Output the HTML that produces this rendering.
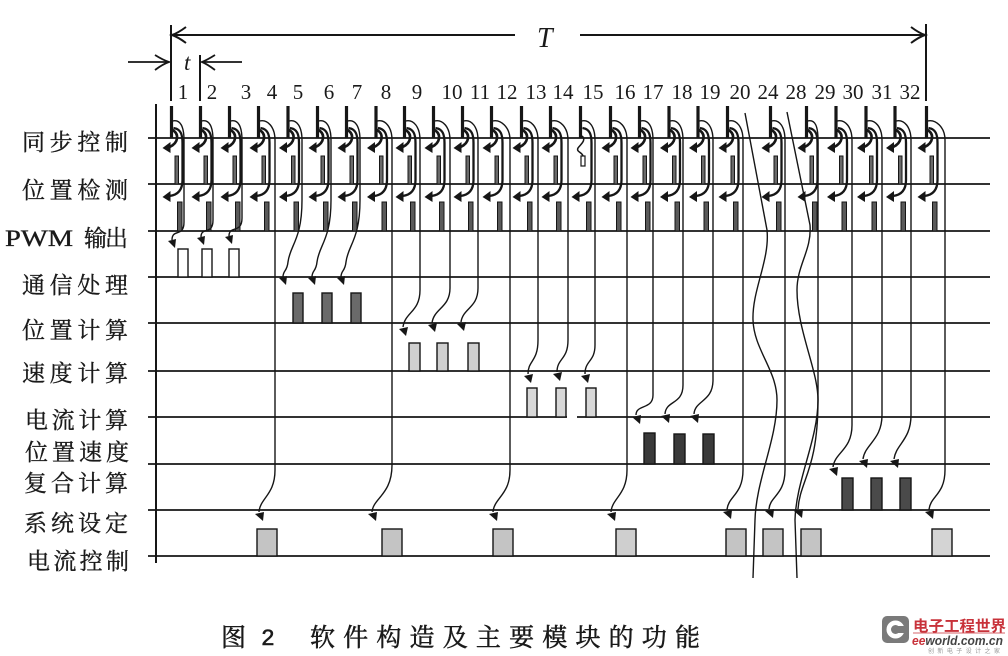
<!DOCTYPE html>
<html>
<head>
<meta charset="utf-8">
<style>
html,body{margin:0;padding:0;background:#fff;}
svg{display:block;}
.lb{font-family:"Liberation Serif","Noto Serif CJK SC",serif;font-size:23px;fill:#1a1a1a;stroke:#1a1a1a;stroke-width:0.35;}
.num{font-family:"Liberation Serif",serif;font-size:21px;fill:#1a1a1a;text-anchor:middle;}
</style>
</head>
<body>
<svg width="1008" height="656" viewBox="0 0 1008 656" xmlns="http://www.w3.org/2000/svg">
<defs>
  <g id="tk">
    <line x1="0" y1="106" x2="0" y2="138" stroke-width="3.2"/>
    <path d="M2,128 C9,129 11,134 11,143 L11,180 C11,190 6,195 -2,196" stroke-width="2.3" fill="none"/>
    <polygon points="-9,197 -1,191 -1,202" fill="#161616" stroke="none"/>
    <rect x="6" y="202" width="4.5" height="29" fill="#5a5a5a" stroke-width="1"/>
  </g>
  <g id="c1">
    <path d="M1,130 C8,134 7,143 -2,147" stroke-width="2.6" fill="none"/>
    <polygon points="-9,148 -1,142 -1,153" fill="#161616" stroke="none"/>
    <rect x="3.5" y="156" width="3.5" height="28" fill="#6a6a6a" stroke-width="1"/>
  </g>
</defs>

<g stroke="#161616" fill="none">
  <!-- T dimension -->
  <line x1="171" y1="25" x2="171" y2="101" stroke-width="2"/>
  <line x1="926" y1="24" x2="926" y2="101" stroke-width="2"/>
  <line x1="171" y1="35" x2="515" y2="35" stroke-width="2"/>
  <line x1="580" y1="35" x2="925" y2="35" stroke-width="2"/>
  <path d="M186,27 Q178,33 172,35 Q178,37 186,43" stroke-width="2"/>
  <path d="M911,27 Q919,33 925,35 Q919,37 911,43" stroke-width="2"/>
  <!-- t dimension -->
  <line x1="200" y1="55" x2="200" y2="101" stroke-width="2"/>
  <line x1="128" y1="62" x2="169" y2="62" stroke-width="1.8"/>
  <path d="M155,55 Q163,60 169,62 Q163,64 155,70" stroke-width="1.8"/>
  <line x1="242" y1="62" x2="202" y2="62" stroke-width="1.8"/>
  <path d="M215,55 Q207,60 202,62 Q207,64 215,70" stroke-width="1.8"/>

  <!-- axis -->
  <line x1="156" y1="104" x2="156" y2="563" stroke-width="2"/>
  <!-- horizontal rows -->
  <g stroke-width="1.8">
    <line x1="148" y1="138" x2="990" y2="138"/>
    <line x1="148" y1="184" x2="990" y2="184"/>
    <line x1="148" y1="231" x2="990" y2="231"/>
    <line x1="148" y1="277" x2="990" y2="277"/>
    <line x1="148" y1="323" x2="990" y2="323"/>
    <line x1="148" y1="371" x2="990" y2="371"/>
    <line x1="148" y1="417" x2="567" y2="417"/>
    <line x1="577" y1="417" x2="990" y2="417"/>
    <line x1="148" y1="464" x2="990" y2="464"/>
    <line x1="148" y1="510" x2="990" y2="510"/>
    <line x1="148" y1="556" x2="990" y2="556"/>
  </g>

  <!-- slot structures -->
  <use href="#tk" x="171.5"/><use href="#c1" x="171.5"/>
  <use href="#tk" x="200.5"/><use href="#c1" x="200.5"/>
  <use href="#tk" x="229.5"/><use href="#c1" x="229.5"/>
  <use href="#tk" x="258.5"/><use href="#c1" x="258.5"/>
  <use href="#tk" x="288"/><use href="#c1" x="288"/>
  <use href="#tk" x="317.5"/><use href="#c1" x="317.5"/>
  <use href="#tk" x="346.5"/><use href="#c1" x="346.5"/>
  <use href="#tk" x="376"/><use href="#c1" x="376"/>
  <use href="#tk" x="404.5"/><use href="#c1" x="404.5"/>
  <use href="#tk" x="433.5"/><use href="#c1" x="433.5"/>
  <use href="#tk" x="462.5"/><use href="#c1" x="462.5"/>
  <use href="#tk" x="491.5"/><use href="#c1" x="491.5"/>
  <use href="#tk" x="521.5"/><use href="#c1" x="521.5"/>
  <use href="#tk" x="550.5"/><use href="#c1" x="550.5"/>
  <use href="#tk" x="580.5"/>
  <use href="#tk" x="610.5"/><use href="#c1" x="610.5"/>
  <use href="#tk" x="639.5"/><use href="#c1" x="639.5"/>
  <use href="#tk" x="669"/><use href="#c1" x="669"/>
  <use href="#tk" x="698"/><use href="#c1" x="698"/>
  <use href="#tk" x="727.5"/><use href="#c1" x="727.5"/>
  <use href="#tk" x="770.5"/><use href="#c1" x="770.5"/>
  <use href="#tk" x="806.5"/><use href="#c1" x="806.5"/>
  <use href="#tk" x="836"/><use href="#c1" x="836"/>
  <use href="#tk" x="866"/><use href="#c1" x="866"/>
  <use href="#tk" x="895"/><use href="#c1" x="895"/>
  <use href="#tk" x="926.5"/><use href="#c1" x="926.5"/>
  <!-- slot 15 special -->
  <path d="M582,136 C587,140 580,145 578,148 C576,152 582,152 583,156" stroke-width="1.5"/>
  <rect x="581" y="156" width="4" height="10" fill="#fff" stroke-width="1.2"/>

  <!-- long connectors -->
  <g stroke-width="1.4">
    <path d="M172.5,121 C180.5,119 184,127 184,140 L184,222 C184,238 172,228 172,240"/>
    <path d="M201.5,121 C209.5,119 213,127 213,140 L213,220 C213,236 201,226 201,237"/>
    <path d="M230.5,121 C238.5,119 242,127 242,140 L242,218 C242,234 229,225 229,236"/>
    <path d="M289,121 C297,119 302,127 302,140 L302,200 C302,240 290,245 288,262 C287,272 283,270 283,277"/>
    <path d="M318.5,121 C326.5,119 331,127 331,140 L331,200 C331,240 319,245 317,262 C316,272 312,270 312,277"/>
    <path d="M347.5,121 C355.5,119 360,127 360,140 L360,200 C360,240 348,245 346,262 C345,272 341,270 341,277"/>
    <path d="M405.5,121 C413.5,119 420,127 420,140 L420,290 C420,312 405,312 403,327"/>
    <path d="M434.5,121 C442.5,119 450,127 450,140 L450,288 C450,308 434,308 432,323"/>
    <path d="M463.5,121 C471.5,119 478,127 478,140 L478,288 C478,308 463,308 461,322"/>
    <path d="M522.5,121 C530.5,119 538,127 538,140 L538,340 C538,362 528,360 528,374"/>
    <path d="M551.5,121 C559.5,119 568,127 568,140 L568,340 C568,360 557,358 557,372"/>
    <path d="M581.5,121 C589.5,119 595,127 595,140 L595,345 C595,362 585,360 585,374"/>
    <path d="M640.5,121 C648.5,119 653,127 653,140 L653,395 C653,410 636,404 636,415"/>
    <path d="M670,121 C678,119 683,127 683,140 L683,385 C683,405 666,400 665,414"/>
    <path d="M699,121 C707,119 713,127 713,140 L713,380 C713,402 695,400 694,414"/>
    <path d="M837,121 C845,119 852,127 852,140 L852,425 C852,450 835,452 833,467"/>
    <path d="M867,121 C875,119 882,127 882,140 L882,415 C882,440 865,444 863,459"/>
    <path d="M896,121 C904,119 911,127 911,140 L911,415 C911,440 896,444 894,459"/>
    <path d="M259.5,121 C267.5,119 275,127 275,140 L275,470 C275,495 260,498 259,512"/>
    <path d="M377,121 C385,119 392,127 392,140 L392,465 C392,495 373,498 372,512"/>
    <path d="M492.5,121 C500.5,119 510,127 510,140 L510,470 C510,495 494,498 493,512"/>
    <path d="M611.5,121 C619.5,119 627,127 627,140 L627,470 C627,495 612,498 611,512"/>
    <path d="M728.5,121 C736.5,119 743,127 743,140 L743,470 C743,495 728,496 727,510"/>
    <path d="M771.5,121 C779.5,119 785,127 785,140 L785,470 C785,495 770,496 769,509"/>
    <path d="M807.5,121 C815.5,119 818,127 818,140 L818,400 C818,470 800,480 798,509"/>
    <path d="M927.5,121 C935.5,119 945,127 945,140 L945,470 C945,495 930,496 929,510"/>
    <!-- wavy break lines -->
    <path d="M745,113 L767,230 C770,260 752,290 753,320 C754,350 777,370 777,400 C777,440 756,480 755,520 L753,578"/>
    <path d="M787,112 L810,225 C812,250 797,265 797,290 C797,330 818,370 818,400 C818,440 796,480 795,520 L797,578"/>
  </g>
</g>

<!-- arrowheads -->
<g fill="#161616">
  <polygon points="175,248 168,241 176,239"/>
  <polygon points="204,245 197,238 205,236"/>
  <polygon points="232,244 225,237 233,235"/>
  <polygon points="286,285 279,278 287,276"/>
  <polygon points="315,285 308,278 316,276"/>
  <polygon points="344,285 337,278 345,276"/>
  <polygon points="406,336 399,329 408,327"/>
  <polygon points="435,332 428,325 437,323"/>
  <polygon points="464,331 457,324 466,322"/>
  <polygon points="531,383 524,376 533,374"/>
  <polygon points="560,381 553,374 562,372"/>
  <polygon points="588,383 581,376 590,374"/>
  <polygon points="640,424 632,417 641,415"/>
  <polygon points="669,423 661,416 670,414"/>
  <polygon points="698,423 690,416 699,414"/>
  <polygon points="837,476 829,469 838,467"/>
  <polygon points="867,468 859,461 868,459"/>
  <polygon points="898,468 890,461 899,459"/>
  <polygon points="263,521 255,514 264,512"/>
  <polygon points="376,521 368,514 377,512"/>
  <polygon points="497,521 489,514 498,512"/>
  <polygon points="615,521 607,514 616,512"/>
  <polygon points="731,519 723,512 732,510"/>
  <polygon points="773,518 765,511 774,509"/>
  <polygon points="802,518 794,511 803,509"/>
  <polygon points="933,519 925,512 934,510"/>
</g>

<!-- task bars -->
<g stroke="#161616" stroke-width="1.4">
  <rect x="178" y="249" width="10" height="28" fill="#fff"/>
  <rect x="202" y="249" width="10" height="28" fill="#fff"/>
  <rect x="229" y="249" width="10" height="28" fill="#fff"/>

  <rect x="293" y="293" width="10" height="30" fill="#6a6a6a"/>
  <rect x="322" y="293" width="10" height="30" fill="#6a6a6a"/>
  <rect x="351" y="293" width="10" height="30" fill="#6a6a6a"/>

  <rect x="409" y="343" width="11" height="28" fill="#cfcfcf"/>
  <rect x="437" y="343" width="11" height="28" fill="#cfcfcf"/>
  <rect x="468" y="343" width="11" height="28" fill="#cfcfcf"/>

  <rect x="527" y="388" width="10" height="29" fill="#d8d8d8"/>
  <rect x="556" y="388" width="10" height="29" fill="#d8d8d8"/>
  <rect x="586" y="388" width="10" height="29" fill="#d8d8d8"/>

  <rect x="644" y="433" width="11" height="31" fill="#3a3a3a"/>
  <rect x="674" y="434" width="11" height="30" fill="#3a3a3a"/>
  <rect x="703" y="434" width="11" height="30" fill="#3a3a3a"/>

  <rect x="842" y="478" width="11" height="32" fill="#4a4a4a"/>
  <rect x="871" y="478" width="11" height="32" fill="#4a4a4a"/>
  <rect x="900" y="478" width="11" height="32" fill="#4a4a4a"/>

  <rect x="257" y="529" width="20" height="27" fill="#c4c4c4"/>
  <rect x="382" y="529" width="20" height="27" fill="#c4c4c4"/>
  <rect x="493" y="529" width="20" height="27" fill="#c4c4c4"/>
  <rect x="616" y="529" width="20" height="27" fill="#cfcfcf"/>
  <rect x="726" y="529" width="20" height="27" fill="#c4c4c4"/>
  <rect x="763" y="529" width="20" height="27" fill="#c4c4c4"/>
  <rect x="801" y="529" width="20" height="27" fill="#c4c4c4"/>
  <rect x="932" y="529" width="20" height="27" fill="#d4d4d4"/>
</g>

<!-- top labels -->
<text x="537" y="47" font-family="Liberation Serif, serif" font-style="italic" font-size="28" fill="#1a1a1a">T</text>
<text x="184" y="70" font-family="Liberation Serif, serif" font-style="italic" font-size="23" fill="#1a1a1a">t</text>
<g class="num">
  <text x="183" y="99">1</text>
  <text x="212" y="99">2</text>
  <text x="246" y="99">3</text>
  <text x="272" y="99">4</text>
  <text x="298" y="99">5</text>
  <text x="329" y="99">6</text>
  <text x="357" y="99">7</text>
  <text x="386" y="99">8</text>
  <text x="417" y="99">9</text>
  <text x="452" y="99">10</text>
  <text x="480" y="99">11</text>
  <text x="507" y="99">12</text>
  <text x="536" y="99">13</text>
  <text x="563" y="99">14</text>
  <text x="593" y="99">15</text>
  <text x="625" y="99">16</text>
  <text x="653" y="99">17</text>
  <text x="682" y="99">18</text>
  <text x="710" y="99">19</text>
  <text x="740" y="99">20</text>
  <text x="768" y="99">24</text>
  <text x="796" y="99">28</text>
  <text x="825" y="99">29</text>
  <text x="853" y="99">30</text>
  <text x="882" y="99">31</text>
  <text x="910" y="99">32</text>
</g>

<!-- row labels -->
<g class="lb">
  <text x="22" y="150" textLength="106" lengthAdjust="spacing">同步控制</text>
  <text x="22" y="198" textLength="106" lengthAdjust="spacing">位置检测</text>
  <text x="5" y="246" textLength="68" lengthAdjust="spacingAndGlyphs" font-family="Liberation Serif, serif">PWM</text>
  <text x="84" y="246" textLength="44" lengthAdjust="spacing">输出</text>
  <text x="22" y="293" textLength="106" lengthAdjust="spacing">通信处理</text>
  <text x="22" y="338" textLength="106" lengthAdjust="spacing">位置计算</text>
  <text x="22" y="381" textLength="106" lengthAdjust="spacing">速度计算</text>
  <text x="25" y="428" textLength="103" lengthAdjust="spacing">电流计算</text>
  <text x="25" y="460" textLength="104" lengthAdjust="spacing">位置速度</text>
  <text x="24" y="491" textLength="104" lengthAdjust="spacing">复合计算</text>
  <text x="24" y="531" textLength="104" lengthAdjust="spacing">系统设定</text>
  <text x="27" y="569" textLength="102" lengthAdjust="spacing">电流控制</text>
</g>

<!-- caption -->
<g font-family="Liberation Serif, 'Noto Serif CJK SC', serif" font-size="25" fill="#1a1a1a" stroke="#1a1a1a" stroke-width="0.5">
  <text x="221" y="646">图</text>
  <text x="261" y="645" font-family="Liberation Mono, monospace" font-size="23">2</text>
  <text x="310" y="646" textLength="390" lengthAdjust="spacing">软件构造及主要模块的功能</text>
</g>

<!-- logo -->
<g>
  <rect x="882" y="616" width="27" height="27" rx="5" fill="#7a7a7a"/>
  <circle cx="895.5" cy="629.5" r="9" fill="#fff"/>
  <circle cx="895.5" cy="629.5" r="4.5" fill="#7a7a7a"/>
  <rect x="898" y="626" width="11" height="7" fill="#7a7a7a"/>
  <text x="913" y="631" font-family="'Noto Sans CJK SC', sans-serif" font-size="15" font-weight="bold" fill="#c8323a" textLength="93" lengthAdjust="spacingAndGlyphs">电子工程世界</text>
  <line x1="913" y1="633" x2="1005" y2="633" stroke="#c8323a" stroke-width="0.8"/>
  <text x="912" y="645" font-family="'Liberation Sans', sans-serif" font-size="13" font-style="italic" font-weight="bold" fill="#444" textLength="91" lengthAdjust="spacingAndGlyphs"><tspan fill="#c8323a">ee</tspan>world.com.cn</text>
  <text x="928" y="653" font-family="'Noto Sans CJK SC', sans-serif" font-size="6" fill="#999" textLength="72" lengthAdjust="spacing">创新电子设计之家</text>
</g>
</svg>
</body>
</html>
